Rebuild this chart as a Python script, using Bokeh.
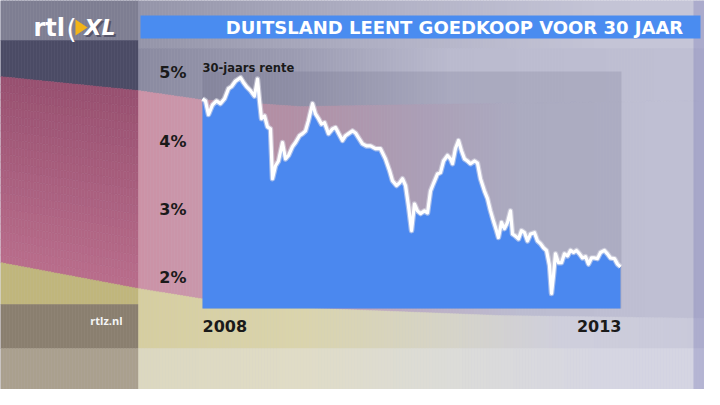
import numpy as np
from bokeh.plotting import figure
from bokeh.models import Range1d, ColumnDataSource
from bokeh.core.properties import value
from bokeh.embed import file_html
from bokeh.resources import INLINE

# ---------------- data ----------------
years = [2008.000, 2008.038, 2008.077, 2008.128, 2008.179, 2008.231, 2008.282, 2008.333, 2008.372, 2008.423,
         2008.487, 2008.525, 2008.564, 2008.615, 2008.666, 2008.705, 2008.731, 2008.756, 2008.795, 2008.833,
         2008.871, 2008.897, 2008.936, 2008.974, 2009.025, 2009.064, 2009.102, 2009.153, 2009.192, 2009.243,
         2009.282, 2009.320, 2009.358, 2009.410, 2009.448, 2009.487, 2009.525, 2009.564, 2009.615, 2009.666,
         2009.705, 2009.756, 2009.794, 2009.833, 2009.871, 2009.922, 2009.961, 2010.000, 2010.051, 2010.102,
         2010.153, 2010.217, 2010.281, 2010.345, 2010.397, 2010.435, 2010.486, 2010.525, 2010.563, 2010.602,
         2010.640, 2010.679, 2010.717, 2010.755, 2010.794, 2010.845, 2010.884, 2010.922, 2010.960, 2011.012,
         2011.050, 2011.089, 2011.140, 2011.178, 2011.204, 2011.242, 2011.281, 2011.319, 2011.358, 2011.396,
         2011.435, 2011.486, 2011.524, 2011.563, 2011.614, 2011.653, 2011.691, 2011.729, 2011.768, 2011.793,
         2011.832, 2011.870, 2011.909, 2011.947, 2011.973, 2012.011, 2012.050, 2012.088, 2012.127, 2012.165,
         2012.204, 2012.255, 2012.293, 2012.332, 2012.370, 2012.409, 2012.447, 2012.473, 2012.498, 2012.524,
         2012.562, 2012.601, 2012.639, 2012.678, 2012.716, 2012.755, 2012.793, 2012.832, 2012.870, 2012.909,
         2012.947, 2012.985, 2013.024, 2013.062, 2013.101, 2013.152, 2013.190, 2013.229, 2013.280, 2013.319,
         2013.357]
rates = [4.62, 4.59, 4.39, 4.53, 4.59, 4.55, 4.62, 4.77, 4.80, 4.88,
         4.93, 4.86, 4.80, 4.74, 4.66, 4.91, 4.59, 4.33, 4.37, 4.21,
         4.18, 3.45, 3.64, 3.71, 3.98, 3.74, 3.79, 3.92, 3.98, 4.08,
         4.11, 4.15, 4.30, 4.55, 4.40, 4.33, 4.25, 4.27, 4.11, 4.18,
         4.20, 4.09, 4.01, 4.08, 4.11, 4.15, 4.12, 4.05, 3.96, 3.93,
         3.93, 3.89, 3.89, 3.74, 3.57, 3.42, 3.35, 3.39, 3.45, 3.35,
         3.05, 2.69, 3.08, 2.98, 2.94, 2.98, 2.95, 3.27, 3.38, 3.52,
         3.54, 3.71, 3.79, 3.74, 3.67, 3.89, 4.01, 3.86, 3.74, 3.71,
         3.67, 3.71, 3.68, 3.45, 3.27, 3.16, 2.98, 2.83, 2.69, 2.59,
         2.81, 2.72, 2.81, 2.98, 2.64, 2.61, 2.57, 2.69, 2.66, 2.54,
         2.64, 2.66, 2.54, 2.50, 2.44, 2.40, 2.18, 1.77, 2.03, 2.35,
         2.22, 2.22, 2.35, 2.32, 2.40, 2.37, 2.40, 2.35, 2.29, 2.31,
         2.20, 2.29, 2.29, 2.28, 2.37, 2.40, 2.35, 2.29, 2.28, 2.20,
         2.16]
y_ticks = [2, 3, 4, 5]
y_tick_labels = ["2%", "3%", "4%", "5%"]
x_labels = ["2008", "2013"]
title_text = "DUITSLAND LEENT GOEDKOOP VOOR 30 JAAR"
series_label = "30-jaars rente"
source_label = "rtlz.nl"

# axis ranges of the chart
x_start, x_end = 2008.0, 2013.37
y_min, y_max = 1.55, 5.02

# ---------------- layout (reference pixel space) ----------------
PX_L, PX_R, PX_T, PX_B = 202, 621, 71, 308
W, H = 704, 389
FONT = value("DejaVu Sans")

p = figure(width=W, height=H, output_backend="svg", toolbar_location=None,
           x_range=Range1d(0, W), y_range=Range1d(H, 0),
           x_axis_location=None, y_axis_location=None, min_border=0)
p.outline_line_color = None
p.xgrid.visible = False
p.ygrid.visible = False
p.background_fill_color = "#c4c4d6"
p.border_fill_color = "#c4c4d6"

sx = (x_end - x_start) / (PX_R - PX_L)
sy = (y_max - y_min) / (PX_B - PX_T)
p.extra_x_ranges = {"t": Range1d(x_start - PX_L * sx, x_end + (W - PX_R) * sx)}
p.extra_y_ranges = {"r": Range1d(y_min - (H - PX_B) * sy, y_max + PX_T * sy)}


def h2r(h):
    return [int(h[i:i + 2], 16) for i in (1, 3, 5)]


def grad(X, stops):
    xs = [s[0] for s in stops]
    cols = [h2r(s[1]) for s in stops]
    rgb = [int(round(np.interp(X, xs, [c[i] for c in cols]))) for i in range(3)]
    return "#%02x%02x%02x" % tuple(rgb)


def mix(c1, c2, w):
    a, b = h2r(c1), h2r(c2)
    return "#%02x%02x%02x" % tuple(int(round(a[i] * (1 - w) + b[i] * w)) for i in range(3))


def b1(X):
    return float(np.interp(X, [0, 138, 200, 300, 420, 720], [76, 90, 99, 106, 104, 100]))


def b2(X):
    return float(np.interp(X, [0, 138, 200, 320, 500, 720], [262, 288, 298, 308, 315, 318]))


L, R, T, B, C = [], [], [], [], []


def q(l, r, t, b, c):
    L.append(l); R.append(r); T.append(t); B.append(b); C.append(c)


top_st = [(138, "#9494a8"), (400, "#b2b2c6"), (600, "#c4c4d6"), (720, "#c6c6d8")]
dark_st = [(138, "#8a8aa0"), (300, "#9c9cb2"), (450, "#babace"), (720, "#c0c0d4")]
red_st = [(138, "#cc92a6"), (300, "#c49eb2"), (420, "#bcaec4"), (520, "#bcbcd0"), (720, "#c0c0d4")]
gold_st = [(138, "#d6cea0"), (300, "#dad4ac"), (450, "#d6d4c8"), (560, "#cfcfdc"), (720, "#c8c8da")]
bot_st = [(138, "#dcd8c0"), (300, "#e0dcc6"), (450, "#dcdcd8"), (600, "#d6d6e2"), (720, "#d4d4e2")]

step = 3
for X in range(0, W, step):
    xc = X + step / 2.0
    l, r = X, X + step
    if xc < 138:
        q(l, r, 0, 40, "#7e7e92")
        q(l, r, 40, b1(xc), "#4b4b65")
        y0, y1 = b1(xc), b2(xc)
        n = 24
        for k in range(n):
            ya = y0 + (y1 - y0) * k / n
            yb = y0 + (y1 - y0) * (k + 1) / n
            q(l, r, ya, yb, mix("#985070", "#b86c8a", k / (n - 1)))
        q(l, r, b2(xc), 304, "#c0b67c")
        q(l, r, 304, 348, "#8a7f6f")
        q(l, r, 348, H, "#aaa08e")
    else:
        q(l, r, 0, 48, grad(xc, top_st))
        q(l, r, 48, b1(xc), grad(xc, dark_st))
        q(l, r, b1(xc), b2(xc), grad(xc, red_st))
        q(l, r, b2(xc), 348, grad(xc, gold_st))
        q(l, r, 348, H, grad(xc, bot_st))

p.quad(left=L, right=R, top=T, bottom=B, fill_color=C, line_color=C, line_width=0.5)

# right strip
p.quad(left=[693], right=[W], top=[0], bottom=[H], fill_color="#6c6cb0", fill_alpha=0.3, line_color=None)
# chart panel tint
p.quad(left=[PX_L], right=[PX_R], top=[PX_T], bottom=[PX_B], fill_color="#303050", fill_alpha=0.12, line_color=None)
# title bar
p.quad(left=[140], right=[700], top=[15], bottom=[38], fill_color="#4a8cf0", line_color=None)

# ---------------- data marks ----------------
src = ColumnDataSource(dict(t=years, v=rates, base=[y_min] * len(years)))
p.varea(x="t", y1="base", y2="v", source=src, x_range_name="t", y_range_name="r",
        fill_color="#4b88ef")
p.line(x="t", y="v", source=src, x_range_name="t", y_range_name="r",
       line_color="#dcdce8", line_width=5.5, line_alpha=0.6, line_join="round")
p.line(x="t", y="v", source=src, x_range_name="t", y_range_name="r",
       line_color="white", line_width=3.2, line_join="round")

# ---------------- texts ----------------
p.text(x=[186] * len(y_ticks), y=y_ticks, text=y_tick_labels, y_range_name="r",
       text_font=FONT, text_font_style="bold", text_font_size="16px",
       text_color="#1a1a1a", text_align="right", text_baseline="middle")
p.text(x=[x_start], y=[325], text=[x_labels[0]], x_range_name="t",
       text_font=FONT, text_font_style="bold", text_font_size="16px",
       text_color="#1a1a1a", text_align="left", text_baseline="middle")
p.text(x=[x_end], y=[325], text=[x_labels[1]], x_range_name="t",
       text_font=FONT, text_font_style="bold", text_font_size="16px",
       text_color="#1a1a1a", text_align="right", text_baseline="middle")
p.text(x=[x_start], y=[67], text=[series_label], x_range_name="t",
       text_font=FONT, text_font_style="bold", text_font_size="11.5px",
       text_color="#1a1a1a", text_align="left", text_baseline="middle")
p.text(x=[454], y=[27], text=[title_text],
       text_font=FONT, text_font_style="bold", text_font_size="18px",
       text_color="white", text_align="center", text_baseline="middle")
p.text(x=[122], y=[320], text=[source_label],
       text_font=value("Open Sans"), text_font_style="bold", text_font_size="11px",
       text_color="#f4f4f4", text_align="right", text_baseline="middle")

# logo
p.text(x=[33], y=[27], text=["rtl"], text_font=FONT, text_font_style="bold",
       text_font_size="24px", text_color="white", text_align="left", text_baseline="middle")
p.text(x=[66], y=[28], text=["("], text_font=FONT, text_font_size="26px",
       text_color="white", text_align="left", text_baseline="middle")
p.patch(x=[75, 87, 75], y=[19, 27, 35], fill_color="#f2b418", line_color=None)
p.text(x=[86], y=[29], text=["XL"], text_font=FONT, text_font_style="bold italic",
       text_font_size="22px", text_color="#55556a", text_align="left", text_baseline="middle")
p.text(x=[84], y=[27], text=["XL"], text_font=FONT, text_font_style="bold italic",
       text_font_size="22px", text_color="white", text_align="left", text_baseline="middle")

open("out.html", "w").write(file_html(p, INLINE))
